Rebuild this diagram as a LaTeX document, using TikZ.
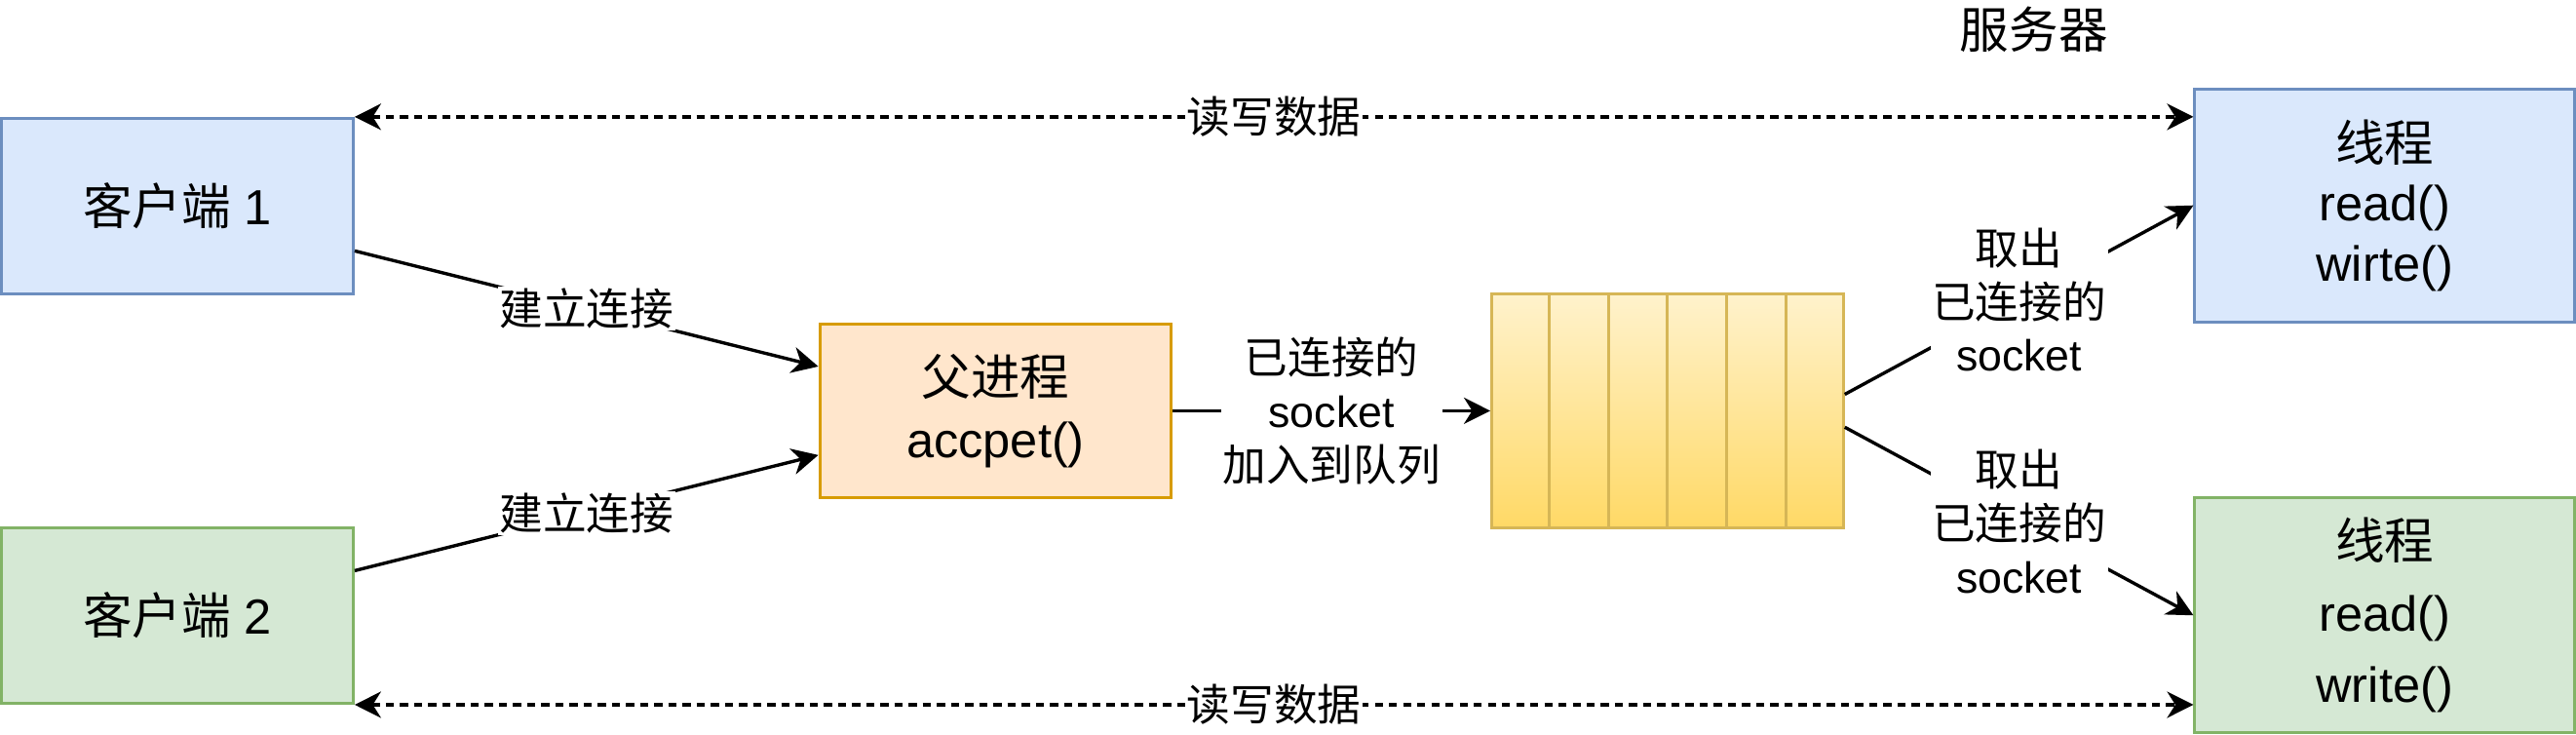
\documentclass[tikz,border=0pt]{standalone}
\usepackage{fontspec}
\setmainfont{Liberation Sans}
\newfontfamily\cjk{Noto Sans CJK SC}
\usetikzlibrary{arrows.meta,calc}

\definecolor{blueFill}{HTML}{DAE8FC}
\definecolor{blueLine}{HTML}{6C8EBF}
\definecolor{greenFill}{HTML}{D5E8D4}
\definecolor{greenLine}{HTML}{82B366}
\definecolor{orangeFill}{HTML}{FFE6CC}
\definecolor{orangeLine}{HTML}{D79B00}
\definecolor{queueTop}{HTML}{FFF2CC}
\definecolor{queueBottom}{HTML}{FFD966}
\definecolor{queueLine}{HTML}{D6B656}

\begin{document}
\begin{tikzpicture}[x=1pt,y=-1pt,
  box/.style={draw,line width=1.8pt,inner sep=0pt,align=center,
    font=\fontsize{30}{36.5}\selectfont},
  link/.style={line width=2pt,-{Stealth[length=16pt,width=16pt,inset=5pt]}},
  duplex/.style={line width=2pt,dash pattern=on 5pt off 3.6pt,
    {Stealth[length=16pt,width=16pt,inset=5pt]}-{Stealth[length=16pt,width=16pt,inset=5pt]}},
  tag/.style={fill=white,inner sep=1pt,align=center,
    font=\fontsize{26.5}{32.5}\selectfont}]

\useasboundingbox (0,0) rectangle (1568,447);

\coordinate (c1) at (108,125.5);
\coordinate (c2) at (108,374.5);
\coordinate (pp) at (606,250);
\coordinate (qq) at (1015,250);
\coordinate (t1) at (1451.5,125);
\coordinate (t2) at (1451.5,374.5);

% the clients
\node[box,fill=blueFill,draw=blueLine,minimum width=214pt,minimum height=107pt] (client1) at (c1) {{\cjk 客户端} 1};
\node[box,fill=greenFill,draw=greenLine,minimum width=214pt,minimum height=107pt] (client2) at (c2) {{\cjk 客户端} 2};

% the parent process
\node[box,fill=orangeFill,draw=orangeLine,minimum width=214pt,minimum height=106pt,
  font=\fontsize{30}{38}\selectfont] (parent) at (pp) {{\cjk 父进程}\\accpet()};

% the queue and its slots
\node[draw=queueLine,line width=1.8pt,top color=queueTop,bottom color=queueBottom,
  minimum width=214pt,minimum height=142pt,inner sep=0pt] (queue) at (qq) {};
\foreach \i in {1,...,5}
  \draw[line width=1.8pt,queueLine] ($(queue.north west)!\i/6!(queue.north east)$) -- ($(queue.south west)!\i/6!(queue.south east)$);

% the threads
\node[box,fill=blueFill,draw=blueLine,minimum width=231pt,minimum height=142pt] (thread1) at (t1) {{\cjk 线程}\\read()\\wirte()};
\node[box,fill=greenFill,draw=greenLine,minimum width=231pt,minimum height=143pt,
  font=\fontsize{30}{43.5}\selectfont] (thread2) at (t2) {{\cjk 线程}\\read()\\write()};

% label of the server
\node[font=\fontsize{30}{36}\selectfont] (server) at (1238,18) {\cjk 服务器};

% connecting
\draw[link] ($(client1.east)!0.5!(client1.south east)$) -- node[tag] {\cjk 建立连接} ($(parent.west)!0.5!(parent.north west)$);
\draw[link] ($(client2.east)!0.5!(client2.north east)$) -- node[tag] {\cjk 建立连接} ($(parent.west)!0.5!(parent.south west)$);

% into the queue and out of it
\draw[link] (parent.east) -- node[tag] {{\cjk 已连接的}\\socket\\{\cjk 加入到队列}} (queue.west);
\draw[link] ([yshift=10pt]queue.east) -- node[tag] {{\cjk 取出}\\{\cjk 已连接的}\\socket} (thread1.west);
\draw[link] ([yshift=-10pt]queue.east) -- node[tag] {{\cjk 取出}\\{\cjk 已连接的}\\socket} (thread2.west);

% read and write
\draw[duplex] (client1.north east) -- node[tag] {\cjk 读写数据} (client1.north east -| thread1.west);
\draw[duplex] (client2.south east) -- node[tag] {\cjk 读写数据} (client2.south east -| thread2.west);

\end{tikzpicture}
\end{document}
